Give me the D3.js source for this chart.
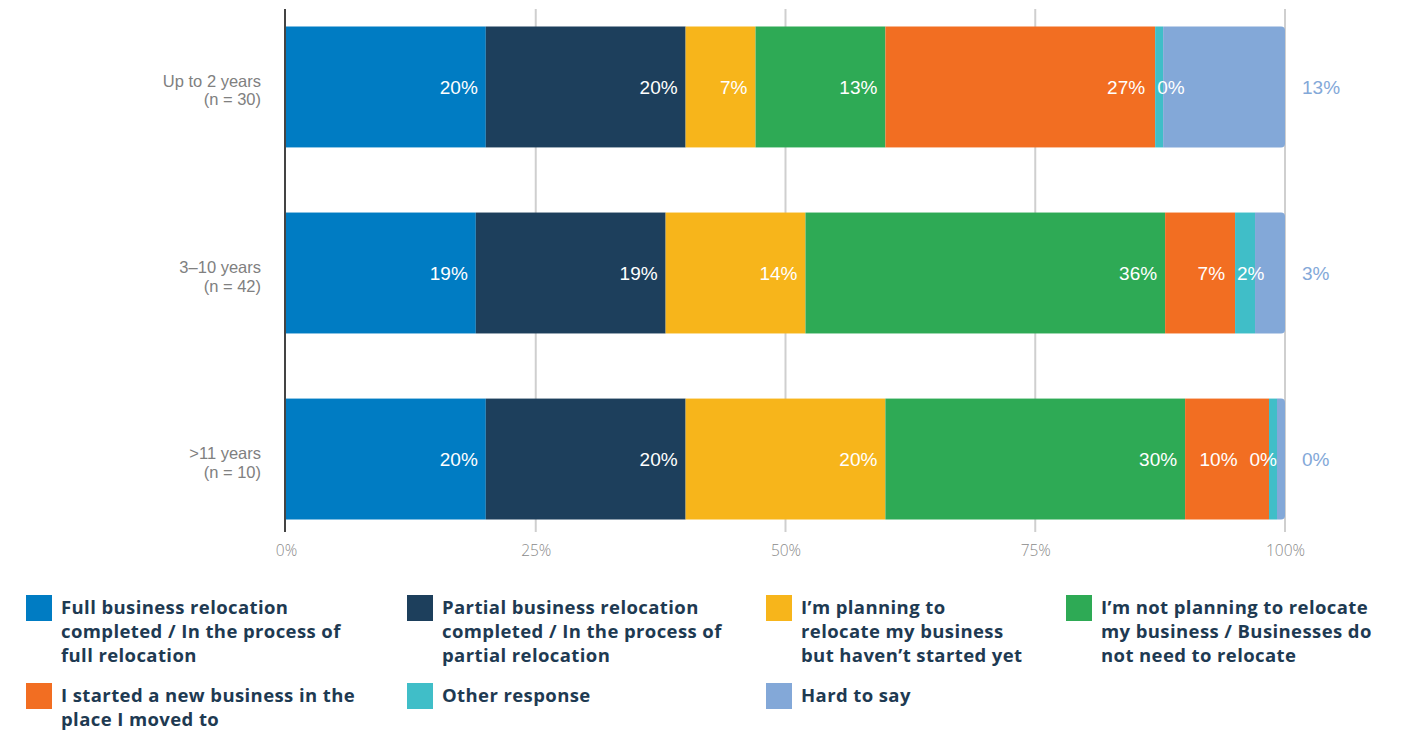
<!DOCTYPE html>
<html>
<head>
<meta charset="utf-8">
<script src="https://cdn.jsdelivr.net/npm/d3@7"></script>
<style>
  html, body { margin: 0; padding: 0; background: #ffffff; }
  svg { display: block; }
</style>
</head>
<body>
<svg id="chart" width="1414" height="731"></svg>
<script>
// Row categories (two-line labels) and respondent counts
const categories = ["Up to 2 years", "3-10 years", ">11 years"];
const categoryLines = [["Up to 2 years", "(n = 30)"], ["3\u201310 years", "(n = 42)"], [">11 years", "(n = 10)"]];

// Series, in stacking order
const seriesNames = [
  "Full business relocation completed / In the process of full relocation",
  "Partial business relocation completed / In the process of partial relocation",
  "I\u2019m planning to relocate my business but haven\u2019t started yet",
  "I\u2019m not planning to relocate my business / Businesses do not need to relocate",
  "I started a new business in the place I moved to",
  "Other response",
  "Hard to say"
];
const seriesColors = ["#007cc3", "#1d3f5c", "#f7b51b", "#2eaa55", "#f26e22", "#40bec8", "#83a8d8"];

// Legend text broken into lines
const legendLines = [
  ["Full business relocation", "completed / In the process of", "full relocation"],
  ["Partial business relocation", "completed / In the process of", "partial relocation"],
  ["I\u2019m planning to", "relocate my business", "but haven\u2019t started yet"],
  ["I\u2019m not planning to relocate", "my business / Businesses do", "not need to relocate"],
  ["I started a new business in the", "place I moved to"],
  ["Other response"],
  ["Hard to say"]
];

// Percentages per row, one array per series
const fullRelocation    = [20, 19, 20];
const partialRelocation = [20, 19, 20];
const planningToMove    = [7, 14, 20];
const notPlanning       = [13, 36, 30];
const newBusiness       = [27, 7, 10];
const otherResponse     = [0, 2, 0];
const hardToSay         = [13, 3, 0];
const seriesValues = [fullRelocation, partialRelocation, planningToMove, notPlanning, newBusiness, otherResponse, hardToSay];

const xTicks = [0, 25, 50, 75, 100];
const xTickLabels = ["0%", "25%", "50%", "75%", "100%"];

const svg = d3.select("#chart");

const x = d3.scaleLinear().domain([0, 100]).range([286, 1285]);
const y = d3.scaleBand().domain(categories).range([26.5, 519.5]).paddingInner(0.35).paddingOuter(0);
const axisTop = 9, axisBottom = 532;

// Gridlines
svg.append("g").selectAll("line").data(xTicks.slice(1)).join("line")
  .attr("x1", d => x(d)).attr("x2", d => x(d))
  .attr("y1", axisTop).attr("y2", axisBottom)
  .attr("stroke", "#cfcfcf").attr("stroke-width", 2);

// Tick labels via a bottom axis
const xAxis = d3.axisBottom(x).tickValues(xTicks).tickFormat((d, i) => xTickLabels[i]).tickSize(0).tickPadding(0);
const gx = svg.append("g").attr("transform", `translate(0, ${axisBottom + 24})`).call(xAxis);
gx.select(".domain").remove();
gx.selectAll("text")
  .attr("font-family", "'Open Sans', Lato, sans-serif")
  .attr("font-size", 15.5).attr("font-weight", 300)
  .attr("fill", "#8a8a8a").attr("dy", 0);

// Category labels, one text per line
const catG = svg.append("g");
categories.forEach((c, i) => {
  const cy = y(c) + y.bandwidth() / 2;
  categoryLines[i].forEach((ln, j) => {
    catG.append("text")
      .attr("x", 261).attr("y", cy + j * 18.5)
      .attr("text-anchor", "end")
      .attr("font-family", "'Liberation Sans', Arial, sans-serif")
      .attr("font-size", 16.5)
      .attr("fill", "#808080")
      .text(ln);
  });
});

// Stacked bars
const minW = 8;
const span = x(100) - x(0);
const barsG = svg.append("g");
const labelsG = svg.append("g");

categories.forEach((c, r) => {
  const vals = seriesValues.map(s => s[r]);
  const widths = vals.map(v => Math.max(x(v) - x(0), minW));
  const total = d3.sum(widths);
  const overflow = total - span;
  if (overflow > 0.5) {
    let k = vals.length - 1;
    while (k >= 0 && vals[k] === 0) k--;
    widths[k] -= overflow;
  }
  const segs = [];
  let cur = x(0);
  widths.forEach((w, i) => {
    segs.push({ i, v: vals[i], x0: cur, x1: cur + w });
    cur += w;
  });

  const y0 = y(c), h = y.bandwidth(), cy = y0 + h / 2;
  const rad = 4;
  segs.forEach(s => {
    if (s.i === segs.length - 1) {
      const p = d3.path();
      const w = s.x1 - s.x0;
      const rr = Math.min(rad, w);
      p.moveTo(s.x0, y0);
      p.lineTo(s.x1 - rr, y0);
      p.quadraticCurveTo(s.x1, y0, s.x1, y0 + rr);
      p.lineTo(s.x1, y0 + h - rr);
      p.quadraticCurveTo(s.x1, y0 + h, s.x1 - rr, y0 + h);
      p.lineTo(s.x0, y0 + h);
      p.closePath();
      barsG.append("path").attr("d", p.toString()).attr("fill", seriesColors[s.i]);
    } else {
      barsG.append("rect")
        .attr("x", s.x0).attr("y", y0)
        .attr("width", s.x1 - s.x0).attr("height", h)
        .attr("fill", seriesColors[s.i]);
    }
  });

  // Value labels
  const labs = [];
  segs.forEach(s => {
    const outside = s.i === segs.length - 1;
    const t = labelsG.append("text")
      .attr("y", cy).attr("dy", "0.35em")
      .attr("font-family", "'Liberation Sans', Arial, sans-serif")
      .attr("font-size", 19)
      .attr("fill", outside ? seriesColors[s.i] : "#ffffff")
      .text(s.v + "%");
    const tw = t.node().getComputedTextLength();
    let left;
    if (outside) {
      left = x(100) + 17;
    } else if (s.x1 - s.x0 >= tw + 16) {
      left = s.x1 - 8 - tw;
    } else if (s.x0 + 2 + tw <= x(100)) {
      left = s.x0 + 2;
    } else {
      left = s.x1 - tw;
    }
    labs.push({ t, left, tw, outside });
  });
  // Push inside labels left when they would collide
  for (let i = labs.length - 3; i >= 0; i--) {
    const nxt = labs[i + 1];
    if (labs[i].left + labs[i].tw > nxt.left - 12) {
      labs[i].left = nxt.left - 12 - labs[i].tw;
    }
  }
  labs.forEach(l => l.t.attr("x", l.left));
});

// Vertical axis line at 0%
svg.append("line")
  .attr("x1", x(0) - 1).attr("x2", x(0) - 1)
  .attr("y1", axisTop).attr("y2", axisBottom)
  .attr("stroke", "#444444").attr("stroke-width", 2);

// Legend
const legCols = [26, 407, 766, 1066];
const legRows = [595, 683];
const legG = svg.append("g");
seriesNames.forEach((name, i) => {
  const col = i % 4, row = Math.floor(i / 4);
  const lx = legCols[col], ly = legRows[row];
  legG.append("rect").attr("x", lx).attr("y", ly).attr("width", 26).attr("height", 26)
    .attr("fill", seriesColors[i]);
  legendLines[i].forEach((ln, j) => {
    legG.append("text")
      .attr("x", lx + 35).attr("y", ly + 19 + j * 24)
      .attr("font-family", "'Open Sans', Lato, sans-serif")
      .attr("font-size", 18.5).attr("font-weight", 700)
      .attr("letter-spacing", 0.4)
      .attr("fill", "#1e3a52")
      .text(ln);
  });
});
</script>
</body>
</html>
